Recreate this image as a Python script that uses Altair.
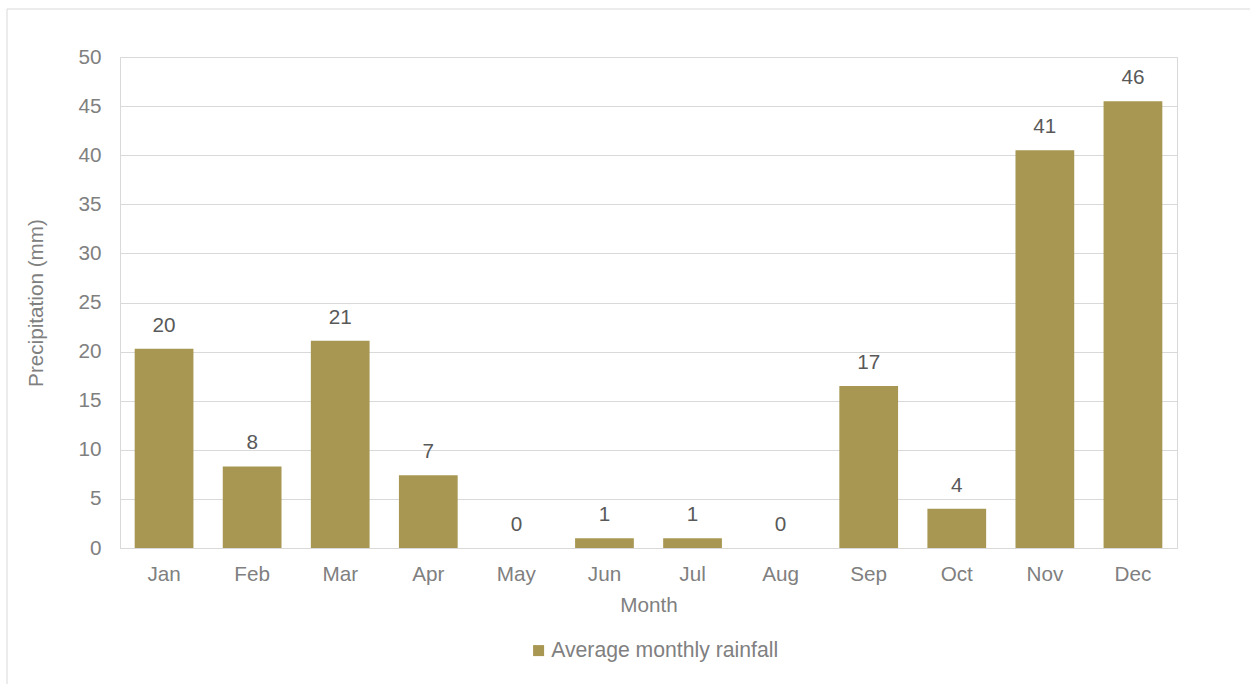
import altair as alt
import pandas as pd

# Average monthly rainfall (mm)
months = ["Jan", "Feb", "Mar", "Apr", "May", "Jun",
          "Jul", "Aug", "Sep", "Oct", "Nov", "Dec"]
rainfall = [20.3, 8.3, 21.1, 7.4, 0.0, 1.0, 1.0, 0.0, 16.5, 4.0, 40.5, 45.5]
series_name = "Average monthly rainfall"
y_ticks = [0, 5, 10, 15, 20, 25, 30, 35, 40, 45, 50]

df = pd.DataFrame({"Month": months, "Rainfall": rainfall, "Series": series_name})

FONT = "Liberation Sans"
BAR = "#A89752"
GRID = "#d9d9d9"
AXIS_TEXT = "#808080"
LABEL_TEXT = "#595959"
FS = 20.7

x_enc = alt.X(
    "Month:N",
    sort=months,
    scale=alt.Scale(paddingInner=0.333, paddingOuter=0.1667),
    axis=alt.Axis(
        title="Month", labelAngle=0, domain=False, ticks=False,
        labelPadding=16, titlePadding=12,
        labelFont=FONT, titleFont=FONT, labelFontSize=FS, titleFontSize=FS,
        labelColor=AXIS_TEXT, titleColor=AXIS_TEXT, titleFontWeight="normal",
    ),
)
y_enc = alt.Y(
    "Rainfall:Q",
    scale=alt.Scale(domain=[0, 50], nice=False),
    axis=alt.Axis(
        title="Precipitation (mm)", values=y_ticks, domain=False, ticks=False,
        labelPadding=19, titlePadding=31, gridColor=GRID, gridWidth=1,
        labelFont=FONT, titleFont=FONT, labelFontSize=FS, titleFontSize=FS,
        labelColor=AXIS_TEXT, titleColor=AXIS_TEXT, titleFontWeight="normal",
    ),
)

bars = alt.Chart(df).mark_bar(color=BAR).encode(
    x=x_enc,
    y=y_enc,
    color=alt.Color(
        "Series:N",
        scale=alt.Scale(domain=[series_name], range=[BAR]),
        legend=alt.Legend(
            title=None, orient="none", legendX=408, legendY=583,
            symbolType="square", symbolSize=121, symbolStrokeWidth=0,
            labelFont=FONT, labelFontSize=21.2, labelColor=AXIS_TEXT,
            labelOffset=2, labelLimit=0,
        ),
    ),
)

labels = alt.Chart(df).mark_text(
    baseline="bottom", dy=-13, font=FONT, fontSize=FS, color=LABEL_TEXT
).encode(
    x=alt.X("Month:N", sort=months),
    y=alt.Y("Rainfall:Q"),
    text=alt.Text("Rainfall:Q", format=".0f"),
)

# Light outer frame around the whole chart area
frame = alt.Chart(pd.DataFrame({"k": [0]})).mark_rect(
    fill=None, stroke="#d9d9d9", strokeWidth=1, clip=False
).encode(
    x=alt.value(-113), x2=alt.value(1200),
    y=alt.value(-48), y2=alt.value(700),
)

chart = alt.layer(frame, bars, labels).properties(
    width=1057,
    height=491,
    autosize=alt.AutoSizeParams(type="none"),
    padding={"left": 120, "top": 57, "right": 73, "bottom": 136},
    background="white",
).configure_view(stroke=GRID, strokeWidth=1)

chart.save("out.html", embed_options={"renderer": "svg", "actions": False})
